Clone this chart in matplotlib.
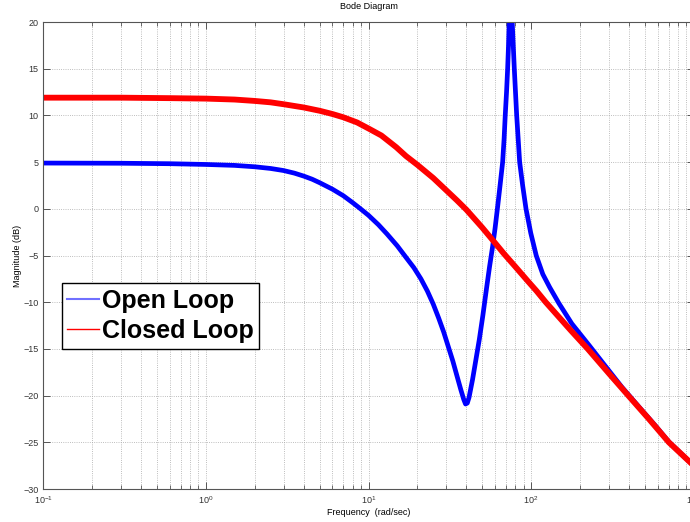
import matplotlib
matplotlib.use('Agg')
import matplotlib.pyplot as plt
from matplotlib.lines import Line2D
from matplotlib.ticker import LogLocator, NullFormatter

plt.rcParams['font.family'] = ['Liberation Sans', 'DejaVu Sans']

# open loop magnitude (rad/s, dB)
w_open = [0.1, 0.3, 0.6, 1, 1.5, 2, 2.5, 3, 3.5, 4, 4.5, 5, 6, 7, 8, 9, 10, 11.5,
          13, 15, 17, 19, 21, 23, 25, 27, 29, 31, 33, 35, 37, 38.5, 39.5, 40.5,
          41.5, 43.6, 45.5, 48, 50.5, 53, 55.5, 58, 60, 62.2, 64.5, 66.8, 68.2,
          69.3, 70.6, 71.7, 72.6, 73.3, 74.1, 74.9, 75.7, 76.5, 78.8, 81.5, 85,
          88.7, 93, 99.5, 107.5, 118, 130, 148, 178, 227, 288, 362, 460, 580,
          703, 1000]
mag_open = [4.9, 4.88, 4.83, 4.75, 4.65, 4.5, 4.32, 4.1, 3.82, 3.5, 3.17, 2.8,
            2.1, 1.4, 0.65, -0.05, -0.7, -1.7, -2.7, -3.95, -5.2, -6.3, -7.5, -8.8,
            -10.2, -11.7, -13.2, -14.8, -16.3, -17.9, -19.4, -20.4, -20.9, -20.8,
            -20.2, -18.3, -16.4, -14.0, -11.4, -8.7, -6.2, -4.0, -2.1, 0.2, 2.6,
            5.0, 7.5, 10.0, 12.5, 15.0, 17.5, 20.0, 24.0, 27.0, 24.0, 20.0, 15.0,
            10.0, 5.0, 2.5, 0.0, -2.6, -5.0, -7.0, -8.4, -10.1, -12.3, -14.6,
            -16.9, -19.1, -21.2, -23.2, -24.95, -27.5]

# closed loop magnitude
w_closed = [0.1, 0.3, 0.6, 1, 1.5, 2, 2.5, 3, 4, 5, 6, 7, 8.5, 10, 12, 14.8, 17,
            20, 25, 30, 35, 40, 50, 59, 68, 80, 95, 108, 123, 145, 175, 223, 300,
            396, 530, 703, 1000]
mag_closed = [11.9, 11.9, 11.85, 11.8, 11.7, 11.55, 11.4, 11.2, 10.85, 10.5,
              10.15, 9.8, 9.25, 8.6, 7.85, 6.6, 5.65, 4.7, 3.3, 2.0, 0.9, -0.1,
              -2.0, -3.5, -4.8, -6.2, -7.7, -8.8, -10.0, -11.4, -13.0, -15.0,
              -17.6, -20.0, -22.5, -25.0, -27.5]

series_names = ['Open Loop', 'Closed Loop']
y_ticks = [-30, -25, -20, -15, -10, -5, 0, 5, 10, 15, 20]

fig = plt.figure(figsize=(6.9, 5.22), dpi=100)
ax = fig.add_axes([0.0628, 0.0632, 0.9426, 0.8946])

ax.semilogx(w_open, mag_open, color='#0000ff', lw=3.4, solid_joinstyle='round')
ax.semilogx(w_closed, mag_closed, color='#ff0000', lw=4.2, solid_joinstyle='round')

ax.set_xlim(0.1, 1000)
ax.set_ylim(-30, 20)
ax.set_yticks(y_ticks)
ax.xaxis.set_major_locator(LogLocator(base=10, numticks=10))
ax.xaxis.set_minor_locator(LogLocator(base=10, subs=range(2, 10), numticks=20))
ax.xaxis.set_minor_formatter(NullFormatter())

ax.grid(True, which='both', axis='x', ls=':', color='#a8a8a8', lw=0.6)
ax.grid(True, which='major', axis='y', ls=':', color='#a8a8a8', lw=0.6)
ax.tick_params(which='both', direction='in', top=True, right=True,
               labelsize=6.5, color='#555555', labelcolor='#333333')
ax.tick_params(which='major', length=5, width=0.7)
ax.tick_params(which='minor', length=3, width=0.6)
for s in ax.spines.values():
    s.set_color('#555555')
    s.set_linewidth(0.8)

ax.set_title('Bode Diagram', fontsize=6.5, pad=9.5)
ax.set_xlabel('Frequency  (rad/sec)', fontsize=6.5, labelpad=2)
ax.set_ylabel('Magnitude (dB)', fontsize=6.5, labelpad=1)

handles = [Line2D([], [], color='#7070ff', lw=1.5),
           Line2D([], [], color='#ff0000', lw=1.0)]
leg = ax.legend(handles, series_names, loc='lower left',
                bbox_to_anchor=(0.0283, 0.3004), borderaxespad=0,
                prop={'family': 'Liberation Sans', 'weight': 'bold', 'size': 18},
                fancybox=False, framealpha=1, edgecolor='black',
                handlelength=1.28, handletextpad=0.12, borderpad=0.22,
                labelspacing=0.25)
leg.get_frame().set_linewidth(1.0)

fig.savefig('out.png', dpi=100)
